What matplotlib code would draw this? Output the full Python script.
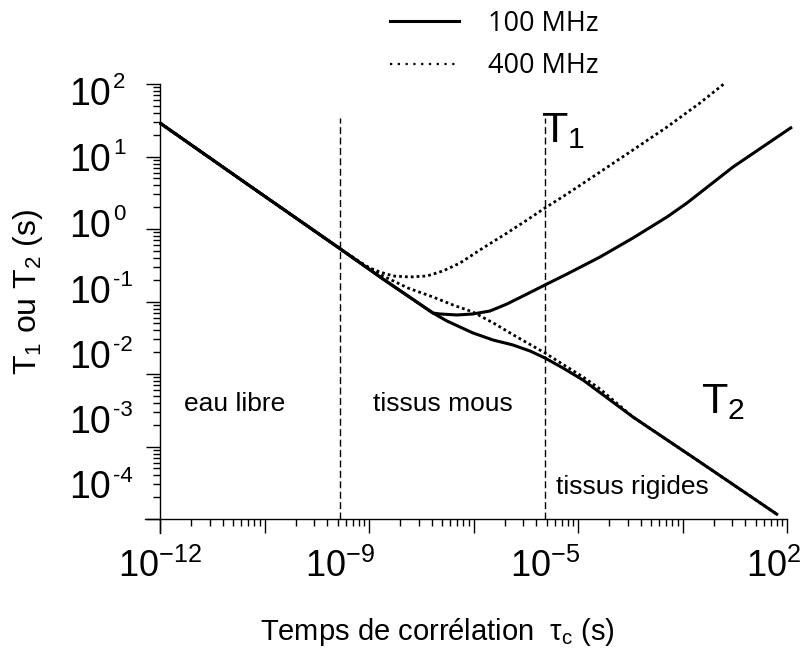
import matplotlib
matplotlib.use("Agg")
import numpy as np
import matplotlib.pyplot as plt
from matplotlib.lines import Line2D
from matplotlib.ticker import LogLocator, NullFormatter

plt.rcParams['font.family'] = ['Liberation Sans', 'DejaVu Sans']
plt.rcParams['mathtext.fontset'] = 'custom'
plt.rcParams['mathtext.rm'] = 'Liberation Sans'
plt.rcParams['mathtext.it'] = 'Liberation Sans:italic'
plt.rcParams['mathtext.bf'] = 'Liberation Sans:bold'

# valeurs, en log10 (tau_c en s, T en s)
log_tau_t1_100 = [-12.0, -11.139, -10.287, -9.866, -9.388, -9.321, -9.158, -9.005, -8.842, -8.679,
                  -8.488, -8.316, -8.105, -7.789, -7.474, -7.148, -6.957, -6.517, -5.952]
log_t1_100 = [1.462, 0.593, -0.262, -0.690, -1.159, -1.172, -1.186, -1.172, -1.131, -1.034,
              -0.897, -0.772, -0.621, -0.386, -0.124, 0.166, 0.359, 0.855, 1.407]

log_tau_t2_100 = [-12.0, -11.139, -10.287, -9.866, -9.388, -9.254, -9.129, -9.005, -8.813,
                  -8.622, -8.459, -8.316, -8.144, -7.952, -7.474, -6.833, -6.086]
log_t2_100 = [1.462, 0.593, -0.262, -0.690, -1.159, -1.269, -1.352, -1.434, -1.531,
              -1.600, -1.683, -1.779, -1.917, -2.083, -2.593, -3.214, -3.945]

log_tau_t1_400 = [-12.0, -11.139, -10.287, -10.153, -10.019, -9.895, -9.770, -9.608, -9.445,
                  -9.292, -9.129, -8.909, -8.679, -8.488, -8.316, -8.105, -7.789, -7.474,
                  -7.148, -6.833, -6.593]
log_t1_400 = [1.462, 0.593, -0.262, -0.400, -0.524, -0.593, -0.648, -0.662, -0.648,
              -0.579, -0.469, -0.262, -0.055, 0.124, 0.290, 0.483, 0.786, 1.090,
              1.407, 1.738, 2.014]

log_tau_t2_400 = [-12.0, -11.139, -10.287, -10.086, -9.866, -9.627, -9.388, -9.196, -9.005,
                  -8.794, -8.584, -8.316, -8.105, -7.952, -7.789, -7.474, -6.833, -6.086]
log_t2_400 = [1.462, 0.593, -0.262, -0.455, -0.648, -0.814, -0.938, -1.048, -1.145,
              -1.310, -1.490, -1.710, -1.903, -2.041, -2.207, -2.593, -3.214, -3.945]

limites = [5.27e-11, 4.83e-9]   # frontieres entre les zones
xtick_labels = ['$10^{-12}$', '$10^{-9}$', '$10^{-5}$', '$10^{2}$']
ytick_exposants = ['2', '1', '0', '-1', '-2', '-3', '-4']

W, H = 807, 651
fig = plt.figure(figsize=(W / 100, H / 100), dpi=100)
ax = fig.add_axes([160 / W, 1 - 519 / H, 627 / W, 435 / H])


def fx(px):
    return px / W


def fy(py):
    return 1 - py / H


ax.set_xscale('log')
ax.set_yscale('log')
ax.set_xlim(1e-12, 1e-6)
ax.set_ylim(1e-4, 1e2)

solid = dict(color='black', lw=2.2, clip_on=False, solid_capstyle='butt', solid_joinstyle='round')
dotted = dict(color='black', lw=2.0, ls=(0, (1, 1.1)), clip_on=False)
ax.plot(10 ** np.array(log_tau_t1_100), 10 ** np.array(log_t1_100), **solid)
ax.plot(10 ** np.array(log_tau_t2_100), 10 ** np.array(log_t2_100), **solid)
ax.plot(10 ** np.array(log_tau_t1_400), 10 ** np.array(log_t1_400), **dotted)
ax.plot(10 ** np.array(log_tau_t2_400), 10 ** np.array(log_t2_400), **dotted)

ax.vlines(limites, 1e-4, 34, colors='black', lw=1.0, linestyles=(0, (5, 2.5)))

# axes
for s in ['top', 'right']:
    ax.spines[s].set_visible(False)
for s in ['left', 'bottom']:
    ax.spines[s].set_linewidth(1.0)
ax.plot([0, 0], [0, -14 / 435], transform=ax.transAxes, clip_on=False, color='black', lw=1.0)
ax.plot([-15 / 627, 0], [0, 0], transform=ax.transAxes, clip_on=False, color='black', lw=1.0)

for axis in [ax.xaxis, ax.yaxis]:
    axis.set_major_locator(LogLocator(base=10, numticks=20))
    axis.set_minor_locator(LogLocator(base=10, subs=range(2, 10), numticks=20))
    axis.set_major_formatter(NullFormatter())
    axis.set_minor_formatter(NullFormatter())
ax.tick_params(which='major', direction='out', length=10, width=1.0)
ax.tick_params(which='minor', direction='out', length=5, width=1.0)

# etiquettes des graduations (placees comme sur l'original)
for xpix, lab in zip([160, 340, 545, 774], xtick_labels):
    fig.text(fx(xpix), fy(577), lab, ha='center', va='baseline', fontsize=26)

for ypix, e in zip([95, 161, 227, 293, 358, 423, 488], ytick_exposants):
    fig.text(fx(69), fy(ypix), '10', ha='left', va='center', fontsize=27)
    fig.text(fx(113), fy(ypix - 12), e, ha='left', va='center', fontsize=16)

# textes
ax.text(5.2e-12, 3.85e-3, 'eau libre', ha='center', va='center', fontsize=19)
ax.text(5.1e-10, 3.85e-3, 'tissus mous', ha='center', va='center', fontsize=19)
ax.text(3.29e-8, 2.76e-4, 'tissus rigides', ha='center', va='center', fontsize=19)
ax.text(4.4e-9, 15.8, '$\\mathrm{T}_1$', ha='left', va='baseline', fontsize=31)
ax.text(1.50e-7, 2.9e-3, '$\\mathrm{T}_2$', ha='left', va='baseline', fontsize=31)

fig.text(fx(437), fy(632), 'Temps de corrélation  τ$_\\mathrm{c}$ (s)',
         ha='center', va='center', fontsize=21)
fig.text(fx(28), fy(292), 'T$_1$ ou T$_2$ (s)', rotation=90,
         ha='center', va='center', fontsize=23)

handles = [Line2D([], [], color='black', lw=2.2),
           Line2D([], [], color='black', lw=1.6, ls=(0, (1, 2.5)))]
fig.legend(handles, ['100 MHz', '400 MHz'], loc='upper left',
           bbox_to_anchor=(fx(376), fy(-4)), frameon=False, borderpad=0,
           handlelength=2.55, handletextpad=1.1, labelspacing=0.55,
           prop={'family': 'Open Sans', 'size': 19.5})

fig.savefig('out.png', dpi=100)
